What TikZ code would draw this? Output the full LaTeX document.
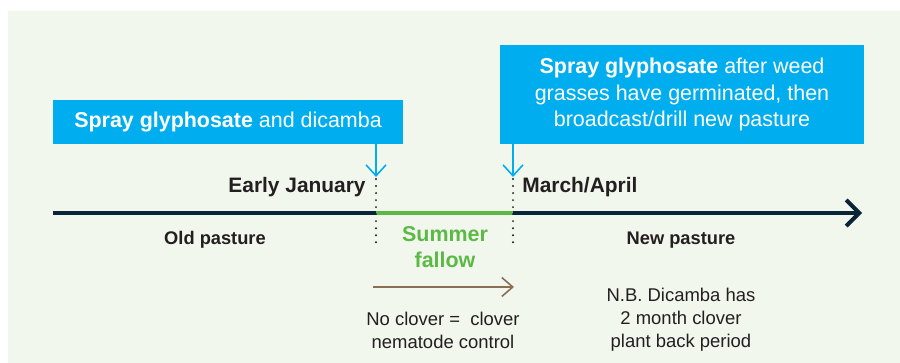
\documentclass[tikz,border=0pt]{standalone}
\usepackage{fontspec}
\setmainfont{Liberation Sans}
\usepackage{xcolor}
\usetikzlibrary{arrows.meta}

\definecolor{bgGreen}{HTML}{F2F7EE}
\definecolor{sprayBlue}{HTML}{00AEEF}
\definecolor{lineNavy}{HTML}{0B2538}
\definecolor{fallowGreen}{HTML}{5CB946}
\definecolor{soilBrown}{HTML}{8C6E54}
\definecolor{inkGrey}{HTML}{231F20}

\begin{document}
\begin{tikzpicture}[x=0.2mm, y=-0.2mm,
  spray/.style={fill=sprayBlue, text=white, align=center, inner sep=0pt, font=\fontsize{12.2}{15.3}\selectfont},
  dateLbl/.style={text=inkGrey, inner sep=0pt, font=\fontsize{11.9}{14}\selectfont\bfseries},
  phase/.style={text=inkGrey, inner sep=0pt, font=\fontsize{10.4}{13}\selectfont\bfseries},
  note/.style={text=inkGrey, inner sep=0pt, align=center, font=\fontsize{10.5}{13}\selectfont},
  sprayArrow/.style={-{Straight Barb[length=2.2mm, width=4mm]}, sprayBlue, line width=0.9pt},
  marker/.style={dash pattern=on 0pt off 4pt, line width=1.2pt, line cap=round, inkGrey},
  timeline/.style={-{Straight Barb[length=2.6mm, width=5.2mm]}, lineNavy, line width=2.3pt},
  fallowArrow/.style={-{Straight Barb[length=2.2mm, width=3.8mm]}, soilBrown, line width=0.9pt}
]
\useasboundingbox (0,0) rectangle (900,363);
\fill[bgGreen] (8,11) rectangle (900,363);

% spray boxes
\node[spray, minimum width=70mm, minimum height=8.8mm] (sprayA) at (228,122) {\textbf{Spray glyphosate} and dicamba};
\node[spray, minimum width=72.8mm, minimum height=19.8mm] (sprayB) at (682,94.5) {\textbf{Spray glyphosate} after weed\\grasses have germinated, then\\broadcast/drill new pasture};

% timeline points
\coordinate (tlStart) at (53,213);
\coordinate (tlEnd) at (862,213);
\coordinate (jan) at (376,213);
\coordinate (mar) at (513,213);
\coordinate (janTop) at (376,177);
\coordinate (marTop) at (513,177);
\coordinate (janDot) at (376,179);
\coordinate (marDot) at (513,179);
\coordinate (janLow) at (376,247);
\coordinate (marLow) at (513,247);
\coordinate (fallowA) at (373,287);
\coordinate (fallowB) at (514,287);

\draw[timeline] (tlStart) -- (tlEnd);
\draw[fallowGreen, line width=2.3pt] (jan) -- (mar);
\draw[marker] (janDot) -- (janLow);
\draw[marker] (marDot) -- (marLow);
\draw[sprayArrow] (sprayA.south -| janTop) -- (janTop);
\draw[sprayArrow] (sprayB.south -| marTop) -- (marTop);

\node[dateLbl, anchor=east] (janLbl) at (366,187) {Early January};
\node[dateLbl, anchor=west] (marLbl) at (522,187) {March/April};
\node[phase] (oldLbl) at (215,240) {Old pasture};
\node[phase] (newLbl) at (681,240) {New pasture};
\node[text=fallowGreen, align=center, inner sep=0pt, font=\fontsize{12.2}{14.8}\selectfont\bfseries] (fallowLbl) at (445,247) {Summer\\fallow};

\draw[fallowArrow] (fallowA) -- (fallowB);
\node[note] (cloverNote) at (443,330) {No clover =\ \ clover\\nematode control};
\node[note] (dicambaNote) at (681,320) {N.B. Dicamba has\\2 month clover\\plant back period};
\end{tikzpicture}
\end{document}
